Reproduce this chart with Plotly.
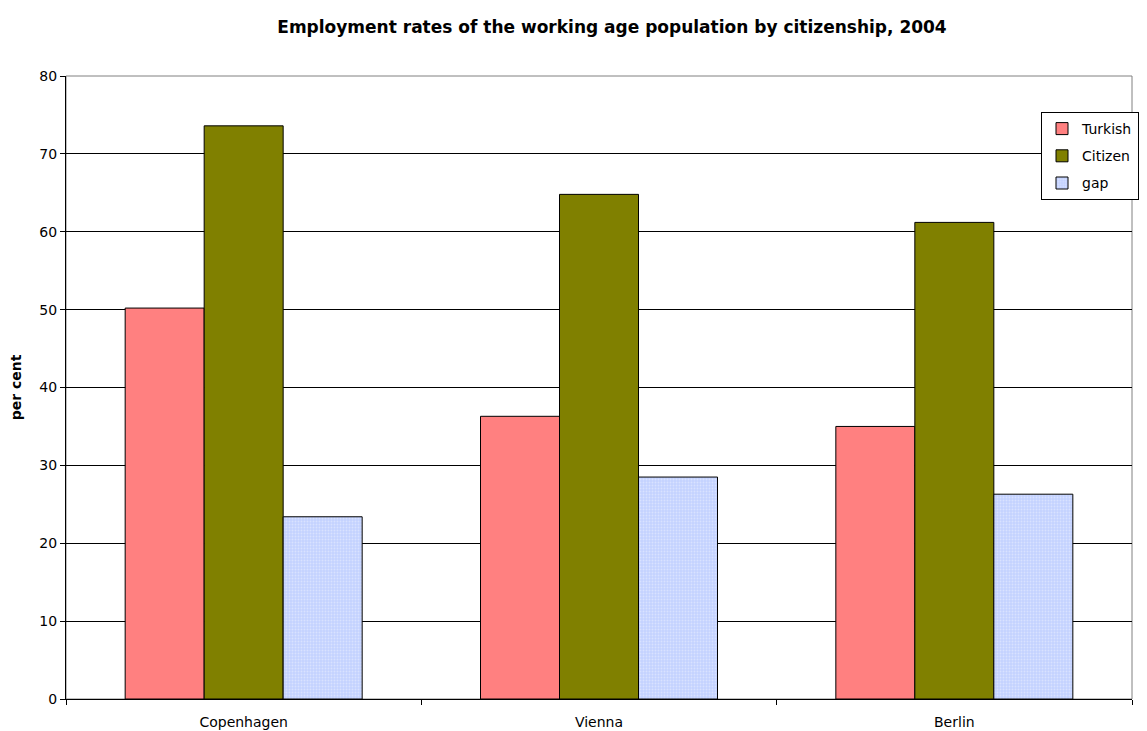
import plotly.graph_objects as go

cities = ["Copenhagen", "Vienna", "Berlin"]
turkish = [50.2, 36.3, 35.0]
citizen = [73.6, 64.8, 61.2]
gap = [23.4, 28.5, 26.3]

# page has an 8px body margin; figure sized so it fills the window
W, H = 1139, 723
L, R, T, B = 58, 15, 68, 32
PW, PH = W - L - R, H - T - B

FONT = "DejaVu Sans, Arial"

fig = go.Figure()
fig.add_trace(go.Bar(name="Turkish", x=cities, y=turkish, legendgroup="a",
                     marker=dict(color="#FF8080", line=dict(color="black", width=1))))
fig.add_trace(go.Bar(name="Citizen", x=cities, y=citizen, legendgroup="b",
                     marker=dict(color="#808000", line=dict(color="black", width=1))))
fig.add_trace(go.Bar(name="gap", x=cities, y=gap, legendgroup="c",
                     marker=dict(color="#C4D2FF", line=dict(color="black", width=1),
                                 pattern=dict(shape=".", fgcolor="#EEF2FF", bgcolor="#C4D2FF",
                                              size=3, solidity=0.3))))

fig.add_shape(type="rect", xref="paper", yref="paper", x0=0, x1=1, y0=0, y1=1,
              line=dict(color="#808080", width=1), layer="below")

fig.update_layout(
    width=W, height=H,
    margin=dict(l=L, r=R, t=T, b=B, autoexpand=False),
    paper_bgcolor="white", plot_bgcolor="white",
    font=dict(family=FONT, size=14, color="black"),
    title=dict(text="<b>Employment rates of the working age population by citizenship, 2004</b>",
               x=(604 - L) / PW, xref="paper", xanchor="center", y=1 - 19 / H, yanchor="middle",
               font=dict(size=17, family=FONT, color="black")),
    barmode="group", bargap=0.333, bargroupgap=0,
    showlegend=True,
    legend=dict(x=(1131 - L) / PW, y=(H - B - 104) / PH,
                xanchor="right", yanchor="top",
                bordercolor="black", borderwidth=1, bgcolor="white",
                font=dict(size=14, family=FONT), itemwidth=30,
                tracegroupgap=6, traceorder="grouped"),
    xaxis=dict(showline=True, linecolor="black", linewidth=1,
               ticks="outside", ticklen=5, tickcolor="black", tickson="boundaries",
               showgrid=False, tickfont=dict(size=14), ticklabelstandoff=10),
    yaxis=dict(title=dict(text="<b>per cent</b>", font=dict(size=14), standoff=14),
               range=[0, 80], dtick=10, showline=True, linecolor="black", linewidth=1,
               ticks="outside", ticklen=5, tickcolor="black",
               showgrid=True, gridcolor="black", gridwidth=1,
               zeroline=False, tickfont=dict(size=14)),
)

fig.write_html("out.html")
